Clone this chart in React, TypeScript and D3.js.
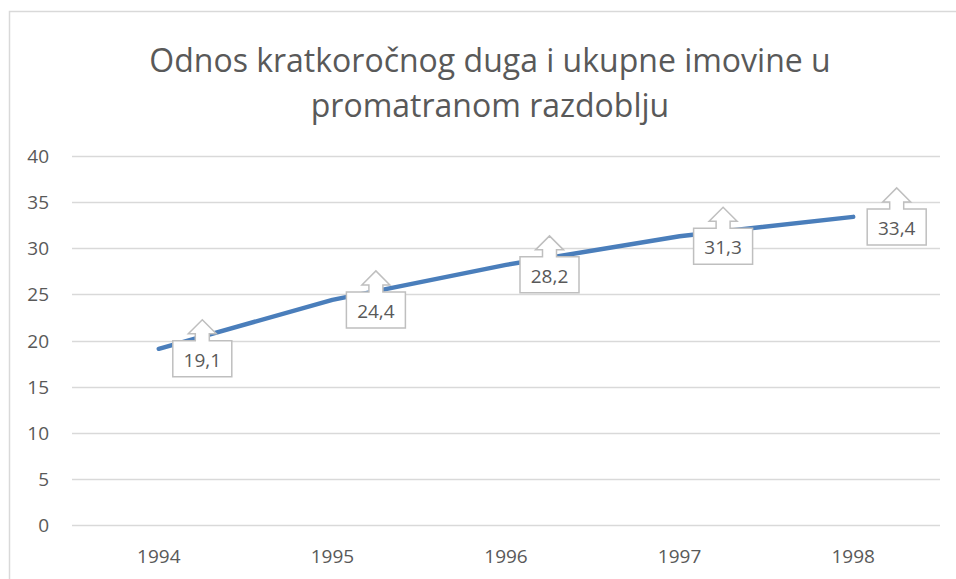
import React, { useEffect, useRef } from "react";
import * as d3 from "d3";

const years = ["1994", "1995", "1996", "1997", "1998"];
const values = [19.1, 24.4, 28.2, 31.3, 33.4];
const yTicks = [0, 5, 10, 15, 20, 25, 30, 35, 40];
const titleLines = ["Odnos kratkoročnog duga i ukupne imovine u", "promatranom razdoblju"];

const W = 956;
const H = 579;
const FONT = "'Open Sans', sans-serif";

export default function App() {
  const ref = useRef<SVGSVGElement>(null);

  useEffect(() => {
    if (!ref.current) return;
    const svg = d3.select(ref.current);
    svg.selectAll("*").remove();

    const margin = { top: 156, right: 16, bottom: 54, left: 72 };
    const innerW = W - margin.left - margin.right;

    // chart frame
    svg
      .append("rect")
      .attr("x", 9.5)
      .attr("y", 11.5)
      .attr("width", W + 20)
      .attr("height", H + 20)
      .attr("fill", "white")
      .attr("stroke", "#d9d9d9")
      .attr("stroke-width", 1.5);

    // title
    svg
      .append("g")
      .selectAll("text")
      .data(titleLines)
      .enter()
      .append("text")
      .attr("x", 490)
      .attr("y", (d, i) => 72 + i * 45)
      .attr("text-anchor", "middle")
      .attr("font-family", FONT)
      .attr("font-size", 32)
      .attr("fill", "#595959")
      .text((d) => d);

    var x = d3
      .scaleBand()
      .domain(years)
      .range([margin.left, margin.left + innerW]);
    var y = d3
      .scaleLinear()
      .domain([0, 40])
      .range([525, margin.top]);

    // gridlines
    svg
      .append("g")
      .selectAll("line")
      .data(yTicks)
      .enter()
      .append("line")
      .attr("x1", margin.left)
      .attr("x2", margin.left + innerW)
      .attr("y1", (d) => Math.round(y(d)) + 0.5)
      .attr("y2", (d) => Math.round(y(d)) + 0.5)
      .attr("stroke", "#d9d9d9")
      .attr("stroke-width", 1.5);

    // y labels
    svg
      .append("g")
      .selectAll("text")
      .data(yTicks)
      .enter()
      .append("text")
      .attr("x", 49)
      .attr("y", (d) => y(d) + 7)
      .attr("text-anchor", "end")
      .attr("font-family", FONT)
      .attr("font-size", 19)
      .attr("fill", "#595959")
      .text((d) => d);

    // x labels
    svg
      .append("g")
      .selectAll("text")
      .data(years)
      .enter()
      .append("text")
      .attr("x", (d) => (x(d) ?? 0) + x.bandwidth() / 2)
      .attr("y", 563)
      .attr("text-anchor", "middle")
      .attr("font-family", FONT)
      .attr("font-size", 19)
      .attr("fill", "#595959")
      .text((d) => d);

    const cx = (i: number) => (x(years[i]) ?? 0) + x.bandwidth() / 2;

    // line
    const line = d3
      .line<number>()
      .x((d, i) => cx(i))
      .y((d) => y(d));
    svg
      .append("path")
      .datum(values)
      .attr("d", line)
      .attr("fill", "none")
      .attr("stroke", "#4a7ebb")
      .attr("stroke-width", 4.5)
      .attr("stroke-linejoin", "round")
      .attr("stroke-linecap", "round");

    // callouts
    const bw = 59,
      bh = 36;
    const labels = svg
      .append("g")
      .selectAll("g")
      .data(values)
      .enter()
      .append("g")
      .attr("transform", (d, i) => `translate(${cx(i) + 14},${y(d) - 8})`);
    labels
      .append("path")
      .attr("d", () => {
        const m = bw / 2;
        return [
          `M0,0`,
          `L${m - 7},0`,
          `L${m - 7},-7`,
          `L${m - 14},-7`,
          `L${m},-21`,
          `L${m + 14},-7`,
          `L${m + 7},-7`,
          `L${m + 7},0`,
          `L${bw},0`,
          `L${bw},${bh}`,
          `L0,${bh}`,
          "Z",
        ].join(" ");
      })
      .attr("fill", "white")
      .attr("stroke", "#bfbfbf")
      .attr("stroke-width", 1.5);
    labels
      .append("text")
      .attr("x", bw / 2)
      .attr("y", 26)
      .attr("text-anchor", "middle")
      .attr("font-family", FONT)
      .attr("font-size", 19)
      .attr("fill", "#595959")
      .text((d) => String(d).replace(".", ","));
  }, []);

  return (
    <svg
      ref={ref}
      width={W}
      height={H}
      style={{ position: "absolute", left: 0, top: 0, background: "white" }}
    />
  );
}
